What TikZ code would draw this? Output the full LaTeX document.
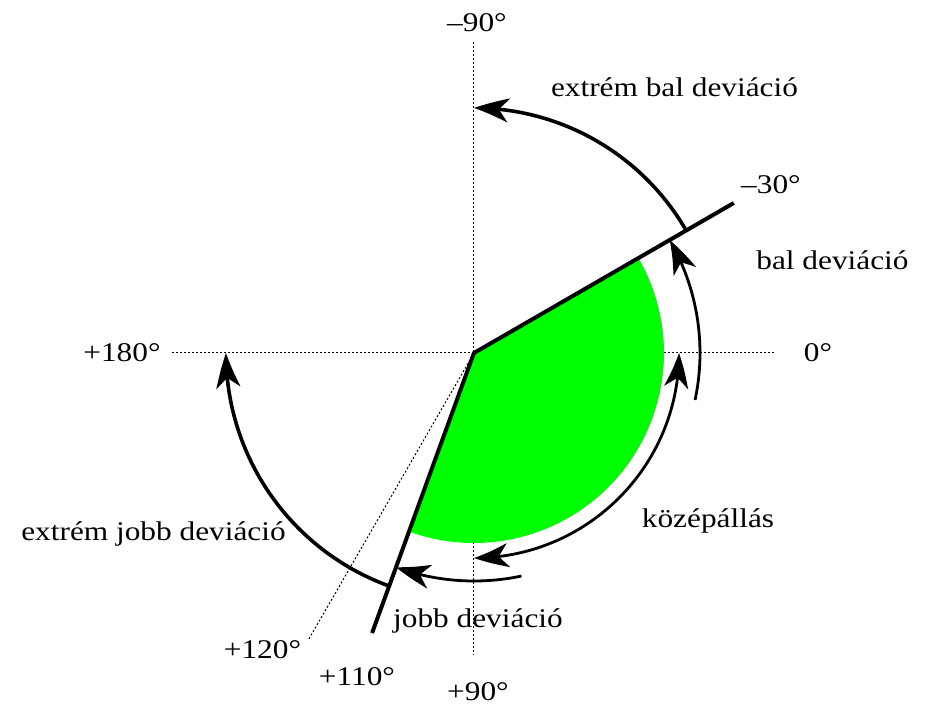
\documentclass[tikz,border=0pt]{standalone}
\usepackage{fontspec}
\setmainfont{Liberation Serif}[FakeStretch=1.16]
\usetikzlibrary{arrows.meta,bending}
\definecolor{sectorgreen}{RGB}{0,255,0}
\tikzset{
  lbl/.style={font=\fontsize{27}{31}\selectfont, inner sep=0pt, anchor=base},
  guide/.style={line width=1pt, dash pattern=on 2pt off 2pt},
  bound/.style={line width=4pt, line join=miter},
  tipbig/.tip={Stealth[length=35pt,width=24pt,inset=10pt,bend]},
  arcbig/.style={line width=3.6pt, -tipbig},
  arcsmall/.style={line width=2.8pt, -tipbig},
  arcboth/.style={line width=2.8pt, tipbig-tipbig}
}
\begin{document}
\begin{tikzpicture}[x=1pt,y=1pt]
\useasboundingbox (-474,-351) rectangle (453,353);
\coordinate (O) at (0,0);
% guide lines
\draw[guide] (-302,0) -- (301,0);
\draw[guide] (0,311) -- (0,-302);
\draw[guide] (O) -- (-120:331);
% green sector
\fill[sectorgreen] (O) -- (30:190pt) arc[start angle=30, end angle=-110, radius=190pt] -- cycle;
% boundary lines
\draw[bound] (30:300) -- (O) -- (-110:298);
% arcs
\draw[arcbig] (30:245pt) arc[start angle=30, end angle=90, radius=245pt];
\draw[arcbig] (-110:248pt) arc[start angle=-110, end angle=-180, radius=248pt];
\draw[arcsmall] (-12:226pt) arc[start angle=-12, end angle=30, radius=226pt];
\draw[arcboth] (0:205pt) arc[start angle=0, end angle=-90, radius=205pt];
\draw[arcsmall] (-78:228pt) arc[start angle=-78, end angle=-110, radius=228pt];
% labels
\node[lbl] (m90) at (3,321) {\textendash90°};
\node[lbl] (ebd) at (200.5,256) {extrém bal deviáció};
\node[lbl] (m30) at (297,159) {\textendash30°};
\node[lbl] (bd) at (358.5,83) {bal deviáció};
\node[lbl] (z0) at (344,-9) {0°};
\node[lbl] (p180) at (-352,-9) {+180°};
\node[lbl] (ka) at (234,-175) {középállás};
\node[lbl] (ejd) at (-320.5,-187) {extrém jobb deviáció};
\node[lbl] (jd) at (4,-274) {jobb deviáció};
\node[lbl] (p120) at (-211.5,-305) {+120°};
\node[lbl] (p110) at (-117,-332) {+110°};
\node[lbl] (p90) at (4,-347) {+90°};
\end{tikzpicture}
\end{document}
